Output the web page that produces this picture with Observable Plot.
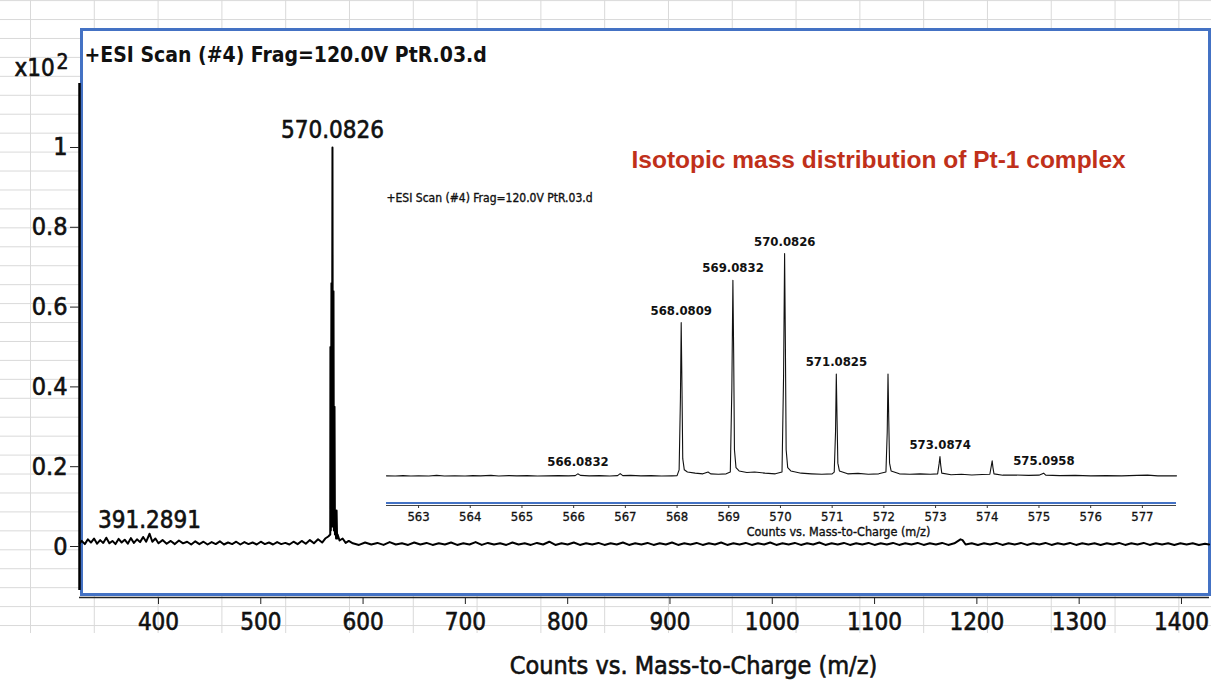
<!DOCTYPE html>
<html><head><meta charset="utf-8">
<script src="https://cdn.jsdelivr.net/npm/d3@7"></script>
<script src="https://cdn.jsdelivr.net/npm/@observablehq/plot@0.6"></script>
<style>
html,body{margin:0;padding:0;background:#fff;}
#wrap{position:relative;width:1211px;height:684px;overflow:hidden;}
#grid{position:absolute;left:0;top:0;width:1211px;height:633px;
 background-image:linear-gradient(to right,#d9d9d9 1px,transparent 1px),linear-gradient(to bottom,#d9d9d9 1px,transparent 1px);
 background-size:63.8px 100%,100% 18.94px;background-position:30px 0,0 0.1px;}
#main{position:absolute;left:0;top:0;}
#inset{position:absolute;left:376px;top:180px;}
svg{overflow:visible}
</style></head><body>
<div id="wrap"><div id="grid"></div><div id="main"></div><div id="inset"></div></div>
<script>
// ---------- data ----------
const mainTitle = "+ESI Scan (#4) Frag=120.0V PtR.03.d";
const xAxisLabel = "Counts vs. Mass-to-Charge (m/z)";
const yUnitBase = "x10";
const yUnitExp = "2";
const annotation = "Isotopic mass distribution of Pt-1 complex";
const xTicks = [400, 500, 600, 700, 800, 900, 1000, 1100, 1200, 1300, 1400];
const yTicks = [0, 0.2, 0.4, 0.6, 0.8, 1];

// main spectrum [m/z, counts x10^2]
const mainSpectrum = [
[323,0.008],[325,0.014],[328,0.006],[331,0.018],[334,0.01],[337,0.02],[340,0.007],[343,0.016],[346,0.009],[349,0.022],
[352,0.008],[355,0.014],[358,0.006],[361,0.019],[364,0.01],[367,0.017],[370,0.007],[373,0.021],[376,0.009],[379,0.018],
[382,0.011],[385,0.024],[388,0.012],[391.3,0.032],[394,0.012],[397,0.02],[400,0.008],[404,0.016],[408,0.007],[412,0.014],
[416,0.006],[420,0.015],[424,0.008],[428,0.012],[432,0.005],[436,0.013],[440,0.006],[444,0.012],[448,0.005],[452,0.011],
[456,0.006],[460,0.013],[464,0.005],[468,0.01],[472,0.006],[476,0.012],[480,0.005],[484,0.011],[488,0.006],[492,0.01],
[496,0.005],[500,0.012],[504,0.006],[508,0.01],[512,0.005],[516,0.011],[520,0.006],[524,0.009],[528,0.005],[532,0.012],
[536,0.006],[540,0.014],[544,0.007],[548,0.016],[552,0.008],[556,0.018],[560,0.01],[563,0.02],[566,0.025],[567.9,0.03],
[568.08,0.5],[568.5,0.04],[569.08,0.66],[569.5,0.05],[570.08,1.0],[570.5,0.05],[571.08,0.64],[571.5,0.04],[572.08,0.35],[572.5,0.03],
[573.09,0.09],[573.6,0.02],[574.1,0.09],[574.6,0.02],[575.1,0.03],[577,0.015],[580,0.02],[583,0.009],[586,0.014],
[590,0.008],[596,0.004],[602,0.01],[608,0.005],[614,0.009],[620,0.004],[626,0.011],[632,0.005],[638,0.008],[644,0.004],
[650,0.01],[656,0.005],[662,0.009],[668,0.004],[674,0.008],[680,0.005],[686,0.01],[692,0.004],[698,0.008],[704,0.005],
[710,0.011],[716,0.004],[722,0.009],[728,0.005],[734,0.008],[740,0.004],[746,0.01],[752,0.005],[758,0.008],[764,0.004],
[770,0.009],[776,0.005],[782,0.012],[788,0.004],[794,0.008],[800,0.005],[806,0.01],[812,0.004],[818,0.008],[824,0.005],
[830,0.009],[836,0.004],[842,0.008],[848,0.005],[854,0.01],[860,0.004],[866,0.008],[872,0.005],[878,0.009],[884,0.004],
[890,0.008],[896,0.005],[902,0.01],[908,0.004],[914,0.008],[920,0.005],[926,0.009],[932,0.004],[938,0.008],[944,0.005],
[950,0.01],[956,0.004],[962,0.008],[968,0.005],[974,0.009],[980,0.004],[986,0.008],[992,0.005],[998,0.01],[1004,0.004],
[1010,0.008],[1016,0.005],[1022,0.009],[1028,0.004],[1034,0.008],[1040,0.005],[1046,0.01],[1052,0.004],[1058,0.008],[1064,0.005],
[1070,0.009],[1076,0.004],[1082,0.008],[1088,0.005],[1094,0.009],[1100,0.004],[1106,0.008],[1112,0.005],[1118,0.009],[1124,0.004],
[1130,0.008],[1136,0.005],[1142,0.009],[1148,0.004],[1154,0.008],[1160,0.005],[1166,0.009],[1172,0.004],[1178,0.008],[1184,0.018],
[1186,0.016],[1189,0.005],[1195,0.008],[1201,0.004],[1207,0.008],[1213,0.005],[1219,0.009],[1225,0.004],[1231,0.008],[1237,0.005],
[1243,0.009],[1249,0.004],[1255,0.008],[1261,0.005],[1267,0.009],[1273,0.004],[1279,0.008],[1285,0.005],[1291,0.009],[1297,0.004],
[1303,0.008],[1309,0.005],[1315,0.008],[1321,0.004],[1327,0.008],[1333,0.005],[1339,0.009],[1345,0.004],[1351,0.008],[1357,0.005],
[1363,0.009],[1369,0.004],[1375,0.008],[1381,0.005],[1387,0.008],[1393,0.004],[1399,0.008],[1405,0.005],[1411,0.008],[1417,0.004],
[1423,0.007],[1427,0.005]
];
const mainTopPeak = {mz: 570.0826, counts: 1.0, label: "570.0826"};
const mainBasePeak = {mz: 391.2891, counts: 0.0, label: "391.2891"};

// inset
const insetTitle = "+ESI Scan (#4) Frag=120.0V PtR.03.d";
const insetXTicks = [563,564,565,566,567,568,569,570,571,572,573,574,575,576,577];
const insetSpectrum = [
[562.38,0.003],[562.55,0.002],[562.7,0.004],[562.85,0.002],[563,0.003],[563.2,0.002],[563.35,0.005],[563.5,0.002],[563.7,0.003],[563.9,0.002],
[564.05,0.004],[564.2,0.003],[564.4,0.005],[564.55,0.002],[564.75,0.004],[564.9,0.003],[565.1,0.004],[565.3,0.002],[565.5,0.003],[565.7,0.004],
[565.9,0.003],[566.03,0.004],[566.08,0.012],[566.13,0.005],[566.3,0.003],[566.5,0.004],[566.7,0.002],[566.85,0.004],[566.9,0.013],[566.95,0.004],
[567.1,0.005],[567.3,0.003],[567.5,0.004],[567.7,0.002],[567.9,0.003],[568.0,0.004],[568.04,0.03],[568.065,0.35],[568.08,0.69],[568.095,0.4],
[568.11,0.08],[568.14,0.03],[568.2,0.02],[568.35,0.015],[568.5,0.012],[568.6,0.02],[568.65,0.012],[568.8,0.01],[568.95,0.012],[569.03,0.02],
[569.06,0.4],[569.08,0.88],[569.095,0.55],[569.11,0.12],[569.14,0.04],[569.2,0.025],[569.35,0.018],[569.5,0.02],[569.7,0.015],[569.9,0.012],
[570.03,0.02],[570.06,0.45],[570.08,1.0],[570.095,0.6],[570.11,0.12],[570.14,0.04],[570.2,0.025],[570.4,0.015],[570.6,0.012],[570.8,0.01],
[571.0,0.012],[571.04,0.02],[571.065,0.2],[571.08,0.46],[571.095,0.25],[571.11,0.06],[571.14,0.025],[571.3,0.012],[571.5,0.014],[571.7,0.01],
[571.9,0.012],[572.04,0.02],[572.065,0.2],[572.08,0.46],[572.095,0.25],[572.11,0.06],[572.14,0.025],[572.3,0.012],[572.5,0.01],[572.7,0.012],
[572.9,0.01],[573.04,0.012],[573.07,0.06],[573.085,0.09],[573.1,0.05],[573.12,0.015],[573.3,0.008],[573.5,0.01],[573.7,0.007],[573.9,0.009],
[574.05,0.01],[574.08,0.05],[574.095,0.07],[574.11,0.04],[574.13,0.012],[574.3,0.006],[574.5,0.007],[574.8,0.005],[575.0,0.006],[575.09,0.015],
[575.13,0.006],[575.4,0.004],[575.7,0.005],[576.0,0.003],[576.3,0.004],[576.6,0.003],[576.9,0.005],[577.1,0.006],[577.3,0.003],[577.66,0.003]
];
const insetLabelMz = [566.0832, 568.0809, 569.0832, 570.0826, 571.0825, 573.0874, 575.0958];
const insetLabelCounts = [0.012, 0.69, 0.88, 1.0, 0.46, 0.09, 0.015];

// ---------- styles ----------
const NARROW = '"Liberation Sans Narrow","Arial Narrow","DejaVu Sans Condensed",sans-serif';
const BLUE = "#4472c4";
const INK = "#111";
const heavy = {stroke: INK, strokeWidth: 0.6};

// ---------- main chart ----------
const xDomain = [322.8, 1427.4];
const yDomain = [-0.1278, 1.2957];
const mainData = mainSpectrum.map(([mz, c]) => ({mz, c}));
const yFmt = d => String(+d.toFixed(1));

const main = Plot.plot({
  width: 1211, height: 684,
  marginLeft: 79, marginRight: 2, marginTop: 29, marginBottom: 87,
  x: {domain: xDomain, label: null},
  y: {domain: yDomain, label: null},
  style: {background: "transparent", fontFamily: NARROW, color: INK},
  marks: [
    Plot.frame({fill: "white", stroke: BLUE, strokeWidth: 3, insetLeft: 2, insetBottom: 3}),
    Plot.line(mainData, {x: "mz", y: "c", stroke: "#000", strokeWidth: 2}),
    Plot.ruleX([xDomain[0]], {stroke: "#000", strokeWidth: 2.5, insetTop: 54, insetBottom: 7}),
    Plot.ruleY([yDomain[0]], {stroke: "#222", strokeWidth: 1.5}),
    Plot.axisY(yTicks, {label: null, tickSize: 9, tickPadding: 3, fontSize: 25, tickFormat: yFmt, stroke: "#222"}),
    Plot.axisX(xTicks, {label: null, tickSize: 7, tickPadding: 8, fontSize: 24, tickFormat: d => String(d), stroke: "#222"}),
    Plot.text([mainTitle], {frameAnchor: "top-left", text: d => d, dx: 5, dy: 26, lineAnchor: "middle", textAnchor: "start", fontSize: 21, fontWeight: "bold", fill: INK}),
    Plot.text([yUnitBase], {frameAnchor: "top-left", text: d => d, dx: -65, dy: 39, lineAnchor: "middle", textAnchor: "start", fontSize: 24, fill: INK, ...heavy}),
    Plot.text([yUnitExp], {frameAnchor: "top-left", text: d => d, dx: -23, dy: 33, lineAnchor: "middle", textAnchor: "start", fontSize: 21, fill: INK, ...heavy}),
    Plot.text([mainTopPeak], {x: "mz", y: "counts", text: "label", dy: -17, fontSize: 24, fill: INK, ...heavy}),
    Plot.text([mainBasePeak], {x: "mz", y: "counts", text: "label", dy: -26, fontSize: 24, fill: INK, ...heavy}),
    Plot.text([annotation], {frameAnchor: "top-left", text: d => d, dx: 552, dy: 131, lineAnchor: "middle", textAnchor: "start", fontFamily: '"Liberation Sans",Arial,sans-serif', fontWeight: "bold", fontSize: 24.5, fill: "#c0301a"}),
    Plot.text([xAxisLabel], {frameAnchor: "bottom", text: d => d, dx: 49, dy: 68, lineAnchor: "middle", fontSize: 25, fill: INK, ...heavy})
  ]
});
document.getElementById("main").appendChild(main);
d3.select(main).selectAll('g[aria-label="x-axis tick label"], g[aria-label="y-axis tick label"]')
  .attr("stroke", INK).attr("stroke-width", 0.6);

// ---------- inset ----------
const insetXDomain = [562.38, 577.66];
const insetYDomain = [-0.130, 1.2377];
const insetData = insetSpectrum.map(([mz, c]) => ({mz, c}));
const insetLabels = insetLabelMz.map((m, i) => ({mz: m, c: insetLabelCounts[i], label: m.toFixed(4)}));

const inset = Plot.plot({
  width: 810, height: 360,
  marginLeft: 10, marginRight: 10, marginTop: 20, marginBottom: 35,
  x: {domain: insetXDomain, label: null},
  y: {domain: insetYDomain, axis: null},
  style: {background: "transparent", fontFamily: NARROW, color: INK},
  marks: [
    Plot.line(insetData, {x: "mz", y: "c", stroke: "#111", strokeWidth: 1.1}),
    Plot.ruleY([insetYDomain[0]], {stroke: BLUE, strokeWidth: 2.2, dy: -2.5}),
    Plot.ruleY([insetYDomain[0]], {stroke: "#444", strokeWidth: 1}),
    Plot.axisX(insetXTicks, {label: null, tickSize: 3, tickPadding: 3, fontSize: 13, tickFormat: d => String(d), stroke: "#333"}),
    Plot.text(insetLabels, {x: "mz", y: "c", text: "label", dy: -12, fontSize: 13, fontWeight: "bold", fill: INK}),
    Plot.text([insetTitle], {frameAnchor: "top-left", text: d => d, dy: -2, lineAnchor: "middle", textAnchor: "start", fontSize: 12, fill: INK, stroke: INK, strokeWidth: 0.35}),
    Plot.text([xAxisLabel], {frameAnchor: "bottom", text: d => d, dx: 57, dy: 26, lineAnchor: "middle", fontSize: 12.5, fill: INK, stroke: INK, strokeWidth: 0.35})
  ]
});
document.getElementById("inset").appendChild(inset);
d3.select(inset).selectAll('g[aria-label="x-axis tick label"]')
  .attr("stroke", INK).attr("stroke-width", 0.3);
</script>
</body></html>
